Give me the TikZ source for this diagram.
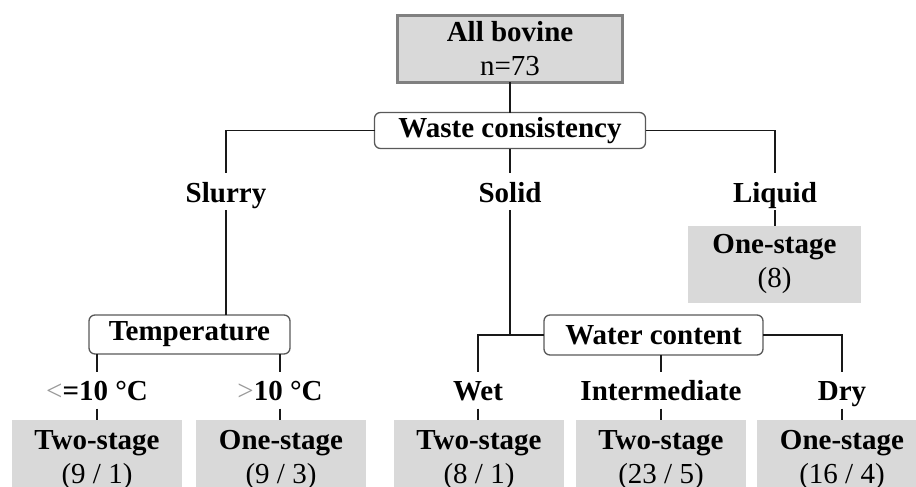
\documentclass[tikz,border=0pt]{standalone}
\usepackage{fontspec}
\setmainfont{Liberation Serif}
\begin{document}
\begin{tikzpicture}[x=1pt,y=-1pt,
  every node/.style={inner sep=0pt,outer sep=0pt,font=\fontsize{29}{34}\selectfont,align=center},
  conn/.style={draw=black!90,line width=1.9pt},
  rootbox/.style={draw=black!50,line width=3pt,fill=black!15,minimum width=225pt,minimum height=67pt},
  splitbox/.style={draw=black!65,line width=1.3pt,fill=white,rounded corners=6pt,font=\fontsize{29}{34}\selectfont\bfseries},
  leafbox/.style={fill=black!15,minimum width=170pt,minimum height=80pt},
  lbl/.style={font=\fontsize{29}{34}\selectfont\bfseries,text height=29pt,text depth=8pt,inner ysep=0pt}
]
\useasboundingbox (0,0) rectangle (916,487);
\clip (0,0) rectangle (916,487);
% root
\node[rootbox] (all) at (510,49) {\textbf{All bovine}\\n=73};
\node[splitbox,minimum width=271pt,minimum height=36pt] (waste) at (510,130.5) {Waste consistency};
% first level labels
\node[lbl] (slurry) at (226,191.5) {Slurry};
\node[lbl] (solid) at (510,191.5) {Solid};
\node[lbl] (liquid) at (775,191.5) {Liquid};
\node[leafbox,minimum width=173pt,minimum height=77pt] (liqleaf) at (774.5,264) {\textbf{One-stage}\\(8)};
% temperature branch
\node[splitbox,minimum width=201pt,minimum height=39pt] (temp) at (189.5,334.5) {Temperature};
\node[lbl] (lt) at (97,390) {\textcolor{black!40}{\mdseries<}=10 °C};
\node[lbl] (gt) at (280,390) {\textcolor{black!40}{\mdseries>}10 °C};
\node[leafbox] (leafa) at (97,460) {\textbf{Two-stage}\\(9 / 1)};
\node[leafbox] (leafb) at (281,460) {\textbf{One-stage}\\(9 / 3)};
% water branch
\node[splitbox,minimum width=219pt,minimum height=40pt] (water) at (653.5,335) {Water content};
\node[lbl] (wet) at (478,390) {Wet};
\node[lbl] (inter) at (661,390) {Intermediate};
\node[lbl] (dry) at (842,390) {Dry};
\node[leafbox] (leafc) at (479,460) {\textbf{Two-stage}\\(8 / 1)};
\node[leafbox] (leafd) at (661,460) {\textbf{Two-stage}\\(23 / 5)};
\node[leafbox] (leafe) at (842,460) {\textbf{One-stage}\\(16 / 4)};
% connectors
\draw[conn] (all.south) -- (waste.north);
\draw[conn] (waste.west) -| (slurry.north);
\draw[conn] (waste.east) -| (liquid.north);
\draw[conn] (waste.south) -- (solid.north);
\draw[conn] (liquid.south) -- (liqleaf.north -| liquid.south);
\draw[conn] (slurry.south) -- (slurry.south |- temp.north);
\draw[conn] (lt.north |- temp.south) -- (lt.north);
\draw[conn] (gt.north |- temp.south) -- (gt.north);
\draw[conn] (lt.south) -- (leafa.north -| lt.south);
\draw[conn] (gt.south) -- (leafb.north -| gt.south);
\draw[conn] (solid.south) -- (solid.south |- water.west);
\draw[conn] (water.west) -| (wet.north);
\draw[conn] (water.east) -| (dry.north);
\draw[conn] (water.south -| inter.north) -- (inter.north);
\draw[conn] (wet.south) -- (leafc.north -| wet.south);
\draw[conn] (inter.south) -- (leafd.north -| inter.south);
\draw[conn] (dry.south) -- (leafe.north -| dry.south);
\end{tikzpicture}
\end{document}
